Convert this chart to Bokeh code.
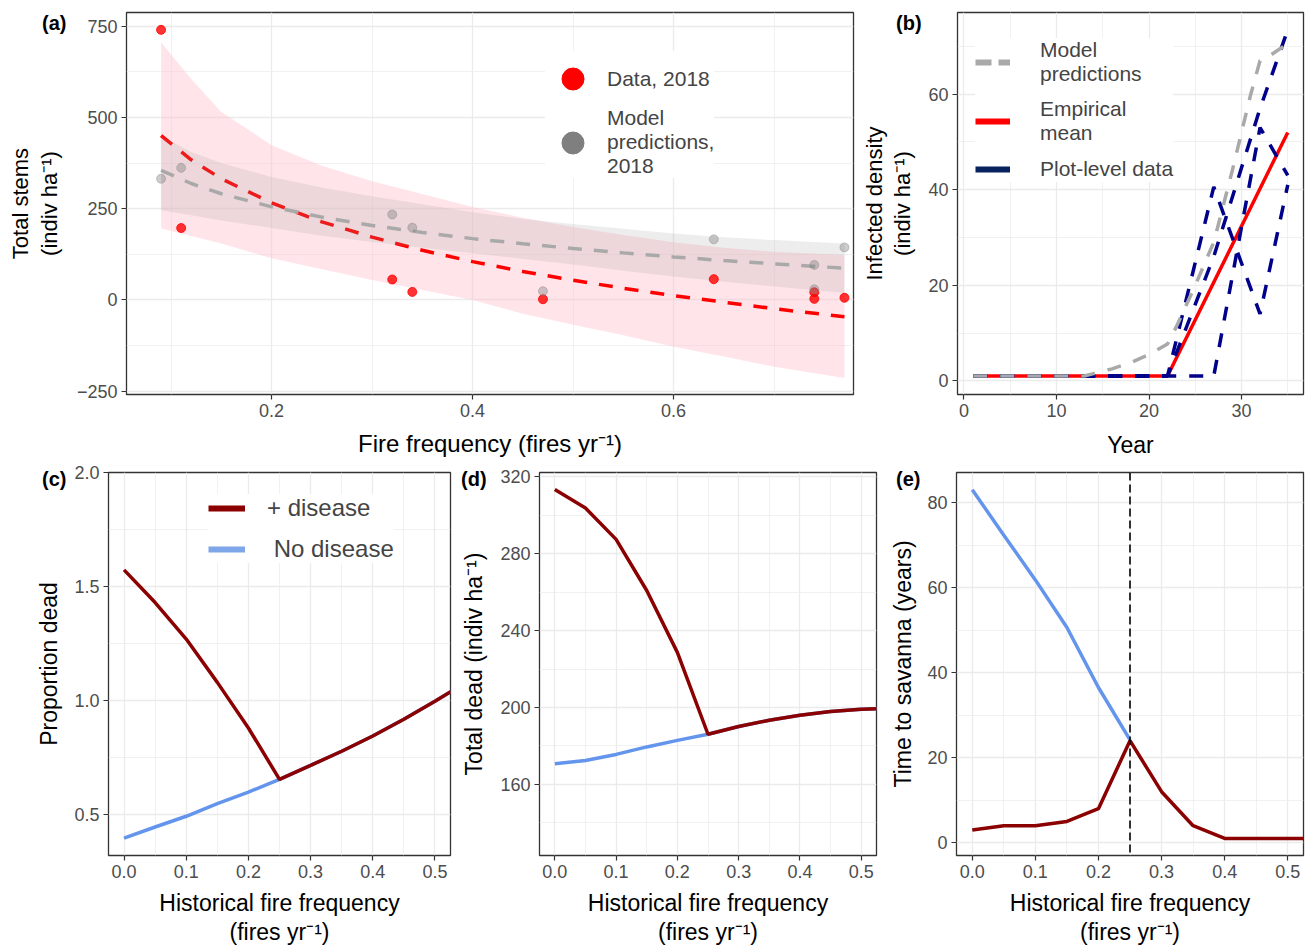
import numpy as np
from bokeh.plotting import figure
from bokeh.models import (Range1d, FixedTicker, Legend, LegendItem, Span, Div,
                          NumeralTickFormatter)
from bokeh.layouts import column, row
from bokeh.embed import file_html
from bokeh.resources import INLINE

FONT = "Liberation Sans"

# ---------------- (a) total stems vs fire frequency ----------------
fire_freq = [0.09, 0.11, 0.32, 0.34, 0.47, 0.64, 0.74, 0.74, 0.77]
stems_data = [740, 197, 56, 22, 2, 57, 21, 3, 6]
stems_model = [332, 362, 234, 198, 24, 166, 96, 29, 144]

fit_x = [0.09, 0.12, 0.15, 0.2, 0.25, 0.3, 0.35, 0.4, 0.45, 0.5, 0.55, 0.6, 0.65, 0.7, 0.77]
fit_data = [450, 384, 332, 266, 214, 172, 136, 105, 78, 54, 32, 12, -6, -24, -46]
fit_data_lo = [196, 175, 155, 114, 84, 55, 27, 0, -38, -68, -97, -128, -155, -183, -214]
fit_data_hi = [706, 605, 515, 424, 368, 325, 290, 255, 225, 200, 178, 158, 143, 132, 123]
fit_model = [355, 319, 291, 255, 227, 204, 185, 168, 154, 141, 129, 118, 108, 99, 87]
fit_model_lo = [246, 232, 218, 197, 176, 159, 143, 128, 112, 97, 80, 64, 50, 37, 19]
fit_model_hi = [450, 405, 375, 337, 308, 284, 262, 240, 222, 208, 195, 182, 172, 164, 155]

a_xticks = [0.2, 0.4, 0.6]
a_xminor = [0.1, 0.3, 0.5, 0.7]
a_yticks = [-250, 0, 250, 500, 750]
a_ytick_labels = ["\u2212250", "0", "250", "500", "750"]
a_yminor = [-125, 125, 375, 625]

# ---------------- (b) infected density vs year ----------------
year_model = [1, 5, 10, 13, 14, 16, 18, 20, 22, 23, 25, 27, 29, 30, 31, 32, 33, 34, 35]
infected_model = [1, 1, 1, 1, 1.5, 2.5, 3.8, 5.5, 7.7, 11.5, 20, 29, 44, 52, 60, 67, 68, 69.3, 70.5]
year_mean = [1, 22, 35]
infected_mean = [1, 1, 52]
plot1_year = [1, 22, 27, 32, 35]
plot1_val = [1, 1, 40.6, 14, 41]
plot2_year = [1, 27, 32, 35]
plot2_val = [1, 1, 53, 43]
plot3_year = [1, 22, 27, 32, 35]
plot3_val = [1, 1, 26, 57, 73.5]

b_xticks = [0, 10, 20, 30]
b_xminor = [5, 15, 25, 35]
b_yticks = [0, 20, 40, 60]
b_yminor = [10, 30, 50, 70]

# ---------------- (c)-(e) model scenarios ----------------
hist_freq = [0.0, 0.05, 0.1, 0.15, 0.2, 0.25, 0.3, 0.35, 0.4, 0.45, 0.5, 0.55]
prop_dead_disease = [1.573, 1.43, 1.27, 1.08, 0.88, 0.655, 0.716, 0.778, 0.845, 0.918, 0.997, 1.08]
prop_dead_nodisease = [0.397, 0.446, 0.493, 0.548, 0.599, 0.655, 0.716, 0.778, 0.845, 0.918, 0.997, 1.08]
total_dead_disease = [313.4, 303.8, 287.5, 260.9, 228.7, 186.1, 190.1, 193.4, 196.0, 197.9, 199.1, 199.6]
total_dead_nodisease = [170.7, 172.4, 175.6, 179.5, 182.9, 186.1, 190.1, 193.4, 196.0, 197.9, 199.1, 199.6]
savanna_disease = [3, 4, 4, 5, 8, 24, 12, 4, 1, 1, 1, 1]
savanna_freq_nodisease = [0.0, 0.05, 0.1, 0.15, 0.2, 0.25]
savanna_nodisease = [83, 72.3, 61.8, 50.6, 36.5, 24.2]
tipping_point = 0.25

h_xticks = [0.0, 0.1, 0.2, 0.3, 0.4, 0.5]
h_xminor = [0.05, 0.15, 0.25, 0.35, 0.45]
c_yticks = [0.5, 1.0, 1.5, 2.0]
c_yminor = [0.75, 1.25, 1.75]
d_yticks = [160, 200, 240, 280, 320]
d_yminor = [140, 180, 220, 260, 300]
e_yticks = [0, 20, 40, 60, 80]
e_yminor = [10, 30, 50, 70]

panel_tags = ["(a)", "(b)", "(c)", "(d)", "(e)"]

DARKRED = "#8b0000"
LIGHTBLUE = "#6495ed"
NAVY = "#00008b"
XLAB_BOTTOM = "Historical fire frequency\n(fires yr\u207b\u00b9)"


def make_fig(width, height, xr, yr, mbl, mbr, mbt, mbb):
    p = figure(width=width, height=height, x_range=Range1d(*xr), y_range=Range1d(*yr),
               output_backend="svg", toolbar_location=None,
               min_border_left=mbl, min_border_right=mbr,
               min_border_top=mbt, min_border_bottom=mbb)
    p.background_fill_color = "white"
    p.border_fill_color = "white"
    p.outline_line_color = "#333333"
    p.outline_line_width = 1.3
    return p


def style(p, xticks, xminor, yticks, yminor, xlabel, ylabel,
          xlab_size="23px", ylab_size="23px", xstand=8, ystand=10):
    xt = FixedTicker(ticks=xticks, minor_ticks=xminor)
    yt = FixedTicker(ticks=yticks, minor_ticks=yminor)
    p.xaxis.ticker = xt
    p.yaxis.ticker = yt
    p.xgrid.ticker = xt
    p.ygrid.ticker = yt
    for ax in p.axis:
        ax.axis_line_color = None
        ax.major_tick_line_color = "#333333"
        ax.major_tick_line_width = 1.2
        ax.major_tick_in = 0
        ax.major_tick_out = 5
        ax.minor_tick_line_color = None
        ax.major_label_text_font = FONT
        ax.major_label_text_font_size = "18px"
        ax.major_label_text_color = "#4d4d4d"
        ax.major_label_standoff = 4
        ax.axis_label_text_font = FONT
        ax.axis_label_text_font_style = "normal"
        ax.axis_label_text_color = "black"
        ax.axis_label_text_line_height = 1.15
    p.xaxis.axis_label = xlabel
    p.yaxis.axis_label = ylabel
    p.xaxis.axis_label_text_font_size = xlab_size
    p.yaxis.axis_label_text_font_size = ylab_size
    p.xaxis.axis_label_standoff = xstand
    p.yaxis.axis_label_standoff = ystand
    for g in (p.xgrid[0], p.ygrid[0]):
        g.grid_line_color = "#ebebeb"
        g.grid_line_width = 1.3
        g.minor_grid_line_color = "#ebebeb"
        g.minor_grid_line_width = 0.7


def legend_style(leg, size):
    leg.background_fill_color = "white"
    leg.background_fill_alpha = 1
    leg.border_line_color = None
    leg.label_text_font = FONT
    leg.label_text_font_size = size
    leg.margin = 0


# ---------------- panel (a) ----------------
pa = make_fig(858, 460, (0.0556, 0.779), (-259, 787.5), 126, 5, 12, 65)
style(pa, a_xticks, a_xminor, a_yticks, a_yminor,
      "Fire frequency (fires yr\u207b\u00b9)", "Total stems\n(indiv ha\u207b\u00b9)",
      xlab_size="24px", ylab_size="22px", xstand=10, ystand=12)
pa.yaxis.major_label_overrides = dict(zip(a_yticks, a_ytick_labels))

pa.varea(x=fit_x, y1=fit_data_lo, y2=fit_data_hi, fill_color="#ffc0cb", fill_alpha=0.42)
pa.line(fit_x, fit_data, line_color="red", line_width=3.5, line_dash="14 12")
pa.varea(x=fit_x, y1=fit_model_lo, y2=fit_model_hi, fill_color="#999999", fill_alpha=0.18)
pa.line(fit_x, fit_model, line_color="#a9a9a9", line_width=3.5, line_dash="14 12")
pa.scatter(fire_freq, stems_data, size=9, color="red", alpha=0.8)
pa.scatter(fire_freq, stems_model, size=9, color="#7f7f7f", alpha=0.4)

prox_a1 = pa.scatter([np.nan], [np.nan], color="red")
prox_a2 = pa.scatter([np.nan], [np.nan], color="#7f7f7f")
leg_a = Legend(items=[LegendItem(label="Data, 2018", renderers=[prox_a1]),
                      LegendItem(label="Model\npredictions,\n2018", renderers=[prox_a2])],
               location=(419, 216), glyph_width=55, glyph_height=55, padding=4,
               spacing=0, label_standoff=7)
legend_style(leg_a, "21px")
pa.add_layout(leg_a)

# ---------------- panel (b) ----------------
pb = make_fig(450, 460, (-0.7, 36.7), (-2.86, 77.1), 98, 5, 12, 65)
style(pb, b_xticks, b_xminor, b_yticks, b_yminor,
      "Year", "Infected density\n(indiv ha\u207b\u00b9)",
      xlab_size="23px", ylab_size="22px", xstand=12, ystand=10)
pb.line(year_mean, infected_mean, line_color="red", line_width=3.5)
for yrs, vals in ((plot1_year, plot1_val), (plot2_year, plot2_val), (plot3_year, plot3_val)):
    pb.line(yrs, vals, line_color=NAVY, line_width=3.5, line_dash="14 13")
pb.line(year_model, infected_model, line_color="#a9a9a9", line_width=3.5, line_dash="14 13")

prox_b1 = pb.line([np.nan, np.nan], [np.nan, np.nan], line_color="#a9a9a9", line_width=6, line_dash="16 7")
prox_b2 = pb.line([np.nan, np.nan], [np.nan, np.nan], line_color="red", line_width=6)
prox_b3 = pb.line([np.nan, np.nan], [np.nan, np.nan], line_color="#08215f", line_width=6)
leg_b = Legend(items=[LegendItem(label="Model\npredictions", renderers=[prox_b1]),
                      LegendItem(label="Empirical\nmean", renderers=[prox_b2]),
                      LegendItem(label="Plot-level data", renderers=[prox_b3])],
               location=(18, 212), glyph_width=35, glyph_height=26, padding=8,
               spacing=11, label_standoff=30)
legend_style(leg_b, "21px")
pb.add_layout(leg_b)

# ---------------- panel (c) ----------------
pc = make_fig(458, 488, (-0.025, 0.525), (0.321, 2.0), 108, 8, 12, 93)
style(pc, h_xticks, h_xminor, c_yticks, c_yminor, XLAB_BOTTOM, "Proportion dead",
      xstand=9, ystand=9)
pc.xaxis.formatter = NumeralTickFormatter(format="0.0")
pc.yaxis.formatter = NumeralTickFormatter(format="0.0")
pc.line(hist_freq, prop_dead_nodisease, line_color=LIGHTBLUE, line_width=3.5)
pc.line(hist_freq, prop_dead_disease, line_color=DARKRED, line_width=3.5)
prox_c1 = pc.line([np.nan, np.nan], [np.nan, np.nan], line_color=DARKRED, line_width=6)
prox_c2 = pc.line([np.nan, np.nan], [np.nan, np.nan], line_color="#7ea6e8", line_width=6)
leg_c = Legend(items=[LegendItem(label="+ disease", renderers=[prox_c1]),
                      LegendItem(label=" No disease", renderers=[prox_c2])],
               location=(100, 292), glyph_width=37, glyph_height=28, padding=8,
               spacing=13, label_standoff=22)
legend_style(leg_c, "24px")
pc.add_layout(leg_c)

# ---------------- panel (d) ----------------
pd_ = make_fig(428, 488, (-0.025, 0.525), (123, 322.3), 81, 10, 12, 93)
style(pd_, h_xticks, h_xminor, d_yticks, d_yminor, XLAB_BOTTOM, "Total dead (indiv ha\u207b\u00b9)",
      xstand=9, ystand=10)
pd_.xaxis.formatter = NumeralTickFormatter(format="0.0")
pd_.line(hist_freq, total_dead_nodisease, line_color=LIGHTBLUE, line_width=3.5)
pd_.line(hist_freq, total_dead_disease, line_color=DARKRED, line_width=3.5)

# ---------------- panel (e) ----------------
pe = make_fig(422, 488, (-0.025, 0.525), (-3.0, 87.05), 70, 5, 12, 93)
style(pe, h_xticks, h_xminor, e_yticks, e_yminor, XLAB_BOTTOM, "Time to savanna (years)",
      xstand=9, ystand=8)
pe.xaxis.formatter = NumeralTickFormatter(format="0.0")
pe.line(savanna_freq_nodisease, savanna_nodisease, line_color=LIGHTBLUE, line_width=3.5)
pe.line(hist_freq, savanna_disease, line_color=DARKRED, line_width=3.5)
pe.add_layout(Span(location=tipping_point, dimension="height", line_color="black",
                   line_width=1.6, line_dash="8 4"))

# ---------------- panel tags, laid over the page ----------------
tag_pos = [(37, 8), (891, 8), (37, 464), (456, 464), (891, 464)]
tag_html = "".join(
    '<div style="position:absolute;left:%dpx;top:%dpx;'
    'font-family:\'Liberation Sans\',Arial,sans-serif;font-weight:bold;font-size:20px;'
    'color:black;white-space:nowrap;line-height:1;">%s</div>' % (x, y, t)
    for t, (x, y) in zip(panel_tags, tag_pos))
tags = Div(text=tag_html, width=0, height=0,
           styles={"position": "absolute", "left": "0px", "top": "0px",
                   "overflow": "visible", "z-index": "10"})

layout = column(row(pa, pb), row(pc, pd_, pe), tags)
open("out.html", "w").write(file_html(layout, INLINE, title="Fire and disease"))
